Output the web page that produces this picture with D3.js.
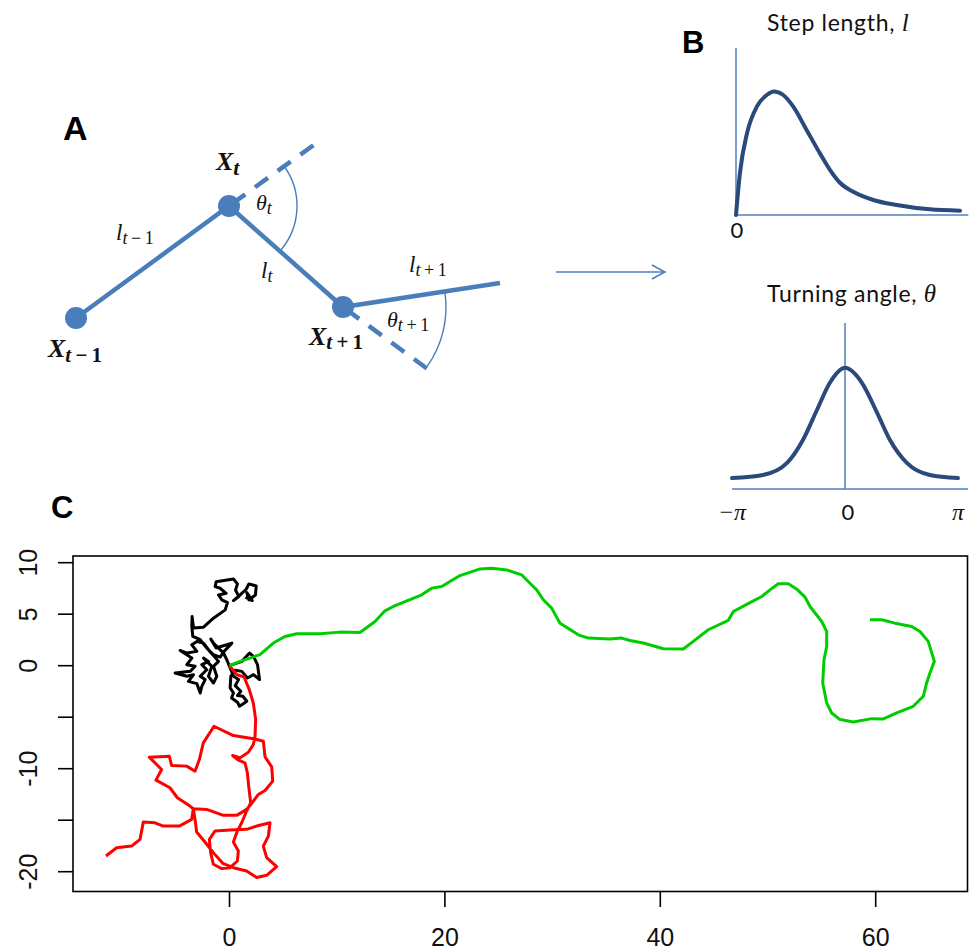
<!DOCTYPE html>
<html><head><meta charset="utf-8">
<script src="https://cdn.jsdelivr.net/npm/d3@7"></script>
<style>body{margin:0;background:#fff} svg{display:block}</style>
</head><body><svg id="c" width="973" height="950"></svg>
<script>
// ---------- Panel A schematic (abstract units, y up) ----------
const nodeNames = ["X", "X", "X"];
const nodeSubs = [["t", "\u2009\u2212\u20091"], ["t", ""], ["t", "\u2009+\u20091"]];
const nodeX = [0, 153, 267];
const nodeY = [0, 112, 11];
const segEnd = [424, 35];
const dashEnds = [[246, 179], [357, -55]];

// ---------- Panel B distributions ----------
const stepX = [0, 0.17, 0.48, 0.91, 1.35, 1.65, 2.04, 2.49, 3.07, 3.65, 4.09, 4.52, 5.10, 5.97, 6.99, 8.43, 9.74];
const stepY = [0, 0.25, 0.49, 0.65, 0.72, 0.74, 0.72, 0.649, 0.509, 0.369, 0.269, 0.193, 0.139, 0.090, 0.060, 0.034, 0.026];
const angleX = [-3.14, -2.28, -1.61, -1.17, -0.78, -0.42, 0, 0.47, 0.89, 1.25, 1.72, 2.36, 3.14];
const angleY = [0.066, 0.084, 0.157, 0.295, 0.476, 0.64, 0.73, 0.64, 0.46, 0.295, 0.157, 0.084, 0.066];
const angleTickLabels = ["\u2212\u03c0", "0", "\u03c0"];

// ---------- Panel C tracks ----------
const xTicksC = [0, 20, 40, 60];
const yTicksC = [10, 5, 0, -5, -10, -15, -20];
const yLabelsC = [10, 5, 0, -10, -20];

const blackX = [0,1.15,1.86,2.23,2.60,2.79,2.23,1.67,1.15,0.53,0.12,0.06,0.37,0.19,0.74,0.93,1.61,1.24,0.74,1.05,0.53,0.84,0.37,-0.25,-0.56,-1.02,-1.49,-1.73,-1.24,-0.80,0.22,-0.50,-0.87,-1.49,-1.95,-2.41,-3.03,-3.50,-3.03,-3.96,-4.58,-3.50,-3.96,-3.19,-3.65,-5.05,-3.96,-3.34,-3.81,-3.03,-2.72,-2.57,-2.26,-2.72,-2.11,-2.57,-1.95,-2.41,-1.64,-1.95,-1.49,-1.18,-1.49,-1.02,-2.11,-2.72,-3.41,-3.50,-3.47,-3.34,-2.41,-1.49,-0.40,-0.19,-0.71,-1.02,-0.31,-0.87,-1.33,-1.24,0.37,0.74,0.56,0.87,0.37,0.99,1.55,1.80,2.48,2.41,1.80,1.61,2.11,1.49];
const blackY = [0,0.42,1.23,0.90,0.10,-1.35,-0.87,-1.19,-0.55,-0.45,-1.03,-2.16,-2.65,-3.13,-3.55,-3.94,-3.45,-2.97,-2.90,-2.48,-1.94,-1.35,-1.03,0.58,1.23,1.71,2.19,2.58,1.71,1.87,2.19,1.39,0.84,1.06,1.55,2.19,2.35,2.03,1.39,1.23,1.48,0.74,0.10,-0.06,-0.55,-0.71,-1.03,-0.87,-1.52,-1.74,-2.65,-2.00,-1.35,-1.03,-0.39,0.10,0.42,0.74,-0.06,-1.03,-1.68,-1.03,-0.06,0.42,1.71,2.52,2.84,3.81,4.77,3.65,3.74,4.61,5.42,6.13,6.39,6.87,7.03,7.52,7.68,8.16,8.42,7.94,7.35,6.71,6.32,6.87,7.42,7.94,7.74,6.87,6.39,7.10,6.32,6.65];

const redX = [0,0.67,1.35,1.84,2.21,2.43,2.37,2.21,1.75,0.98,0.29,0.82,1.44,1.66,1.78,1.97,1.59,1.13,0.67,0.36,0.82,0.73,0.05,-0.73,-1.50,-1.75,-1.87,-1.35,0.05,1.59,2.52,3.76,3.61,3.14,3.45,4.38,3.45,2.52,1.59,0.36,-0.63,-1.44,-2.28,-3.05,-3.20,-3.36,-2.12,-0.57,0.67,1.59,2.06,2.68,3.30,4.01,3.92,3.30,3.14,2.37,0.36,-1.44,-2.43,-2.80,-3.20,-3.98,-5.37,-5.59,-7.45,-6.30,-6.83,-5.53,-4.84,-3.67,-3.36,-3.51,-4.66,-6.15,-6.92,-8.00,-8.31,-9.09,-10.48,-11.47];
const redY = [0,-0.87,-1.10,-2.33,-3.62,-5.23,-6.85,-7.66,-8.40,-8.95,-8.72,-9.17,-9.43,-10.40,-11.69,-13.31,-14.11,-15.25,-16.21,-17.12,-17.99,-18.96,-19.61,-19.70,-19.28,-18.15,-16.86,-16.05,-15.96,-15.89,-15.57,-15.25,-16.54,-17.51,-18.64,-19.51,-20.35,-20.57,-19.93,-19.61,-19.19,-18.22,-17.12,-16.15,-14.92,-13.89,-13.95,-14.53,-14.53,-13.95,-13.37,-12.50,-12.11,-11.21,-9.82,-8.85,-7.33,-7.11,-6.78,-5.88,-7.49,-9.11,-10.24,-9.75,-9.69,-8.79,-8.88,-10.08,-11.11,-11.85,-12.82,-13.63,-13.89,-14.92,-15.57,-15.57,-15.25,-15.18,-16.86,-17.51,-17.67,-18.48];

const greenX = [0,0.97,1.90,2.83,4.07,5.15,6.24,8.40,10.26,12.12,13.51,14.44,15.21,16.30,17.85,18.77,19.70,21.40,23.26,24.35,25.74,27.13,27.90,28.52,29.14,29.91,30.69,32.39,33.32,35.33,36.42,37.19,38.42,40.28,42.14,43.06,44.46,46.31,46.78,48.33,49.42,50.19,50.96,51.89,52.67,53.44,53.90,54.99,55.45,55.45,55.20,55.08,55.45,55.91,56.69,57.92,59.63,60.71,61.95,63.49,64.42,64.73,65.04,65.44,64.88,64.11,63.34,61.79,60.56,59.47];
const greenY = [0,0.42,0.74,1.07,2.20,2.84,3.10,3.10,3.26,3.23,4.29,5.33,5.75,6.23,6.88,7.53,7.69,8.75,9.40,9.46,9.30,8.82,8.01,7.36,6.40,5.59,4.13,3.00,2.68,2.59,2.68,2.45,2.20,1.65,1.62,2.36,3.49,4.39,5.26,6.13,6.72,7.36,7.95,7.95,7.43,6.66,5.75,4.29,3.32,1.87,0.58,-1.68,-3.61,-4.59,-5.23,-5.46,-5.14,-5.17,-4.59,-3.94,-2.97,-1.68,-0.71,0.42,2.36,3.32,3.81,4.13,4.46,4.46];

// ================= drawing =================
const svg = d3.select("#c");
const blue = "#4A7EBB", navy = "#2A4A7B", axisBlue = "#4F81BD";
const sans = "Liberation Sans, Arial, sans-serif";
const serif = "'Liberation Serif', 'DejaVu Serif', serif";
const uiFont = "Lato, 'Open Sans', sans-serif";

function mathText(x, y, base, subIt, subUp, size, subSize, weight, subDy) {
  const t = svg.append("text").attr("x", x).attr("y", y)
    .attr("font-family", serif).attr("font-weight", weight)
    .attr("font-size", size).attr("fill", "#111");
  t.append("tspan").attr("font-style", "italic").text(base);
  if (subIt) t.append("tspan").attr("font-style", "italic").attr("font-size", subSize).attr("dy", subDy).text(subIt);
  if (subUp) t.append("tspan").attr("font-style", "normal").attr("font-size", subSize).text(subUp);
  return t;
}

// ---- Panel A ----
const xA = d3.scaleLinear().domain([0, 424]).range([76, 500]);
const yA = d3.scaleLinear().domain([0, 112]).range([318, 206]);
const nodes = d3.zip(nodeX, nodeY);
const lineA = d3.line().x(d => xA(d[0])).y(d => yA(d[1]));
svg.append("path").attr("d", lineA(nodes.concat([segEnd])))
  .attr("fill", "none").attr("stroke", blue).attr("stroke-width", 4.5);
dashEnds.forEach((e, i) => {
  svg.append("path").attr("d", lineA([nodes[i + 1], e]))
    .attr("fill", "none").attr("stroke", blue).attr("stroke-width", 4.5)
    .attr("stroke-dasharray", "16,12").attr("stroke-dashoffset", -4);
});
function arcA(node, r, a0, a1) {
  const p = d3.path();
  p.arc(xA(node[0]), yA(node[1]), r, a0 * Math.PI / 180, a1 * Math.PI / 180);
  return p.toString();
}
svg.append("path").attr("d", arcA(nodes[1], 68, -36, 40))
  .attr("fill", "none").attr("stroke", blue).attr("stroke-width", 1.4);
svg.append("path").attr("d", arcA(nodes[2], 103, -8, 35))
  .attr("fill", "none").attr("stroke", blue).attr("stroke-width", 1.4);
svg.selectAll("circle.node").data(nodes).enter().append("circle")
  .attr("class", "node").attr("cx", d => xA(d[0])).attr("cy", d => yA(d[1]))
  .attr("r", 11).attr("fill", blue);

svg.append("text").attr("x", 63).attr("y", 140).attr("font-family", sans)
  .attr("font-weight", "bold").attr("font-size", 34).text("A");

mathText(48, 357, nodeNames[0], nodeSubs[0][0], nodeSubs[0][1], 26, 21, "bold", 5);
mathText(216, 170, nodeNames[1], nodeSubs[1][0], nodeSubs[1][1], 26, 22, "bold", 5);
mathText(309, 345, nodeNames[2], nodeSubs[2][0], nodeSubs[2][1], 26, 21, "bold", 4);
mathText(256, 210, "\u03b8", "t", "", 22, 18, "normal", 4);
mathText(387, 327, "\u03b8", "t", "\u2009+\u20091", 22, 18, "normal", 4);
mathText(116, 240, "l", "t", "\u2009\u2212\u20091", 23, 18, "normal", 4);
mathText(261, 278, "l", "t", "", 23, 18, "normal", 4);
mathText(409, 272, "l", "t", "\u2009+\u20091", 23, 18, "normal", 4);

// arrow
svg.append("line").attr("x1", 556).attr("y1", 272).attr("x2", 665).attr("y2", 272)
  .attr("stroke", blue).attr("stroke-width", 1.5);
svg.append("path").attr("d", "M652,265 L665,272 L652,279").attr("fill", "none")
  .attr("stroke", blue).attr("stroke-width", 1.5);

// ---- Panel B ----
svg.append("text").attr("x", 682).attr("y", 53).attr("font-family", sans)
  .attr("font-weight", "bold").attr("font-size", 31).text("B");

const xS = d3.scaleLinear().domain([0, 10]).range([736, 966]);
const yS = d3.scaleLinear().domain([0, 1]).range([215, 48]);
svg.append("line").attr("x1", xS(0)).attr("x2", xS(0)).attr("y1", yS(0)).attr("y2", yS(1))
  .attr("stroke", axisBlue).attr("stroke-width", 1.5);
svg.append("line").attr("x1", xS(0)).attr("x2", xS(10.1)).attr("y1", yS(0)).attr("y2", yS(0))
  .attr("stroke", axisBlue).attr("stroke-width", 1.5);
svg.append("path").attr("d", d3.line().x(d => xS(d[0])).y(d => yS(d[1])).curve(d3.curveMonotoneX)(d3.zip(stepX, stepY)))
  .attr("fill", "none").attr("stroke", navy).attr("stroke-width", 4).attr("stroke-linecap", "round");
const st = svg.append("text").attr("x", 767).attr("y", 31).attr("font-family", uiFont)
  .attr("font-size", 23).attr("letter-spacing", 0.7).attr("fill", "#111");
st.append("tspan").text("Step length, ");
st.append("tspan").attr("font-family", serif).attr("font-style", "italic").attr("font-size", 25).text("l");
svg.append("text").attr("x", xS(0) + 1).attr("y", 238).attr("text-anchor", "middle")
  .attr("font-family", uiFont).attr("font-size", 22).attr("fill", "#111").text("0");

const xT = d3.scaleLinear().domain([-Math.PI, Math.PI]).range([732, 958]);
const yT = d3.scaleLinear().domain([0, 1]).range([489, 323]);
svg.append("line").attr("x1", xT(0)).attr("x2", xT(0)).attr("y1", yT(0)).attr("y2", yT(1))
  .attr("stroke", axisBlue).attr("stroke-width", 1.5);
svg.append("line").attr("x1", xT(-Math.PI)).attr("x2", xT(3.42)).attr("y1", yT(0)).attr("y2", yT(0))
  .attr("stroke", axisBlue).attr("stroke-width", 1.5);
svg.append("path").attr("d", d3.line().x(d => xT(d[0])).y(d => yT(d[1])).curve(d3.curveMonotoneX)(d3.zip(angleX, angleY)))
  .attr("fill", "none").attr("stroke", navy).attr("stroke-width", 4).attr("stroke-linecap", "round");
const tt = svg.append("text").attr("x", 767).attr("y", 302).attr("font-family", uiFont)
  .attr("font-size", 23).attr("letter-spacing", 0.7).attr("fill", "#111");
tt.append("tspan").text("Turning angle, ");
tt.append("tspan").attr("font-family", serif).attr("font-style", "italic").attr("font-size", 25).text("\u03b8");
[-Math.PI, 0, Math.PI].forEach((v, i) => {
  svg.append("text").attr("x", xT(v) + (i === 1 ? 3 : 0)).attr("y", 520).attr("text-anchor", "middle")
    .attr("font-family", i === 1 ? uiFont : serif).attr("font-style", i === 1 ? "normal" : "italic")
    .attr("font-size", i === 1 ? 22 : 24).attr("fill", "#111").text(angleTickLabels[i]);
});

// ---- Panel C ----
svg.append("text").attr("x", 51).attr("y", 518).attr("font-family", sans)
  .attr("font-weight", "bold").attr("font-size", 31).text("C");

const xC = d3.scaleLinear().domain([0, 60]).range([229.5, 875.7]);
const yC = d3.scaleLinear().domain([-20, 10]).range([871.7, 562.7]);
const lineC = d3.line().x(d => xC(d[0])).y(d => yC(d[1]));
[[blackX, blackY, "#000000"], [redX, redY, "#FF0000"], [greenX, greenY, "#00CD00"]].forEach(([xs, ys, col]) => {
  svg.append("path").attr("d", lineC(d3.zip(xs, ys))).attr("fill", "none")
    .attr("stroke", col).attr("stroke-width", 3).attr("stroke-linejoin", "round");
});
svg.append("rect").attr("x", 73).attr("y", 556).attr("width", 894.5).attr("height", 335.5)
  .attr("fill", "none").attr("stroke", "#000").attr("stroke-width", 1.6);
yTicksC.forEach(v => {
  svg.append("line").attr("x1", 58).attr("x2", 73).attr("y1", yC(v)).attr("y2", yC(v))
    .attr("stroke", "#000").attr("stroke-width", 1.6);
});
yLabelsC.forEach(v => {
  svg.append("text").attr("transform", `translate(37,${yC(v)}) rotate(-90)`)
    .attr("text-anchor", "middle").attr("font-family", sans).attr("font-size", 25)
    .attr("fill", "#111").text(v < 0 ? "-" + Math.abs(v) : v);
});
xTicksC.forEach(v => {
  svg.append("line").attr("x1", xC(v)).attr("x2", xC(v)).attr("y1", 891.5).attr("y2", 907)
    .attr("stroke", "#000").attr("stroke-width", 1.6);
  svg.append("text").attr("x", xC(v)).attr("y", 946).attr("text-anchor", "middle")
    .attr("font-family", sans).attr("font-size", 25).attr("fill", "#111").text(v);
});
</script></body></html>
